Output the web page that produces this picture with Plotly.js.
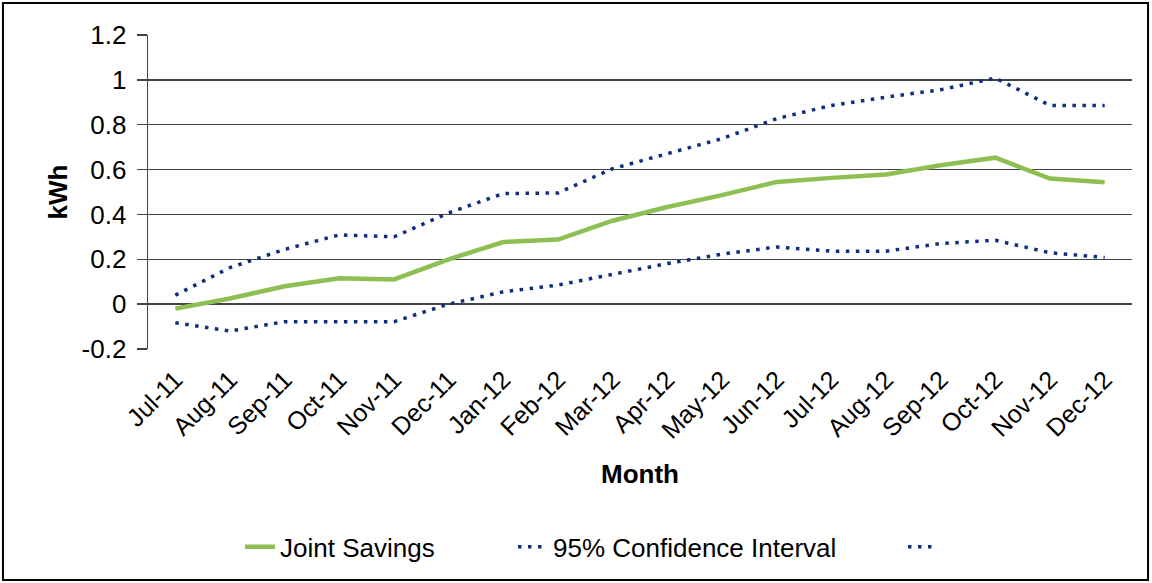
<!DOCTYPE html>
<html><head><meta charset="utf-8">
<script src="https://cdn.plot.ly/plotly-3.0.1.min.js"></script>
<style>html,body{margin:0;padding:0;background:#fff}#chart{width:1152px;height:583px}</style>
</head><body><div id="chart"></div>
<script>
const months = ["Jul-11","Aug-11","Sep-11","Oct-11","Nov-11","Dec-11","Jan-12","Feb-12","Mar-12","Apr-12","May-12","Jun-12","Jul-12","Aug-12","Sep-12","Oct-12","Nov-12","Dec-12"];
const jointSavings = [-0.02,0.025,0.08,0.115,0.11,0.20,0.277,0.288,0.372,0.433,0.486,0.545,0.563,0.578,0.619,0.653,0.56,0.543];
const upperCI = [0.04,0.163,0.244,0.309,0.30,0.407,0.493,0.496,0.604,0.671,0.738,0.827,0.886,0.923,0.956,1.008,0.886,0.886];
const lowerCI = [-0.083,-0.12,-0.078,-0.078,-0.078,0.0,0.055,0.085,0.132,0.181,0.223,0.255,0.236,0.236,0.27,0.285,0.229,0.208];
const yTicks = [-0.2,0,0.2,0.4,0.6,0.8,1,1.2];
const yTickText = ["-0.2","0","0.2","0.4","0.6","0.8","1","1.2"];

const font = "Liberation Sans, Arial, sans-serif";
const dotLine = {color:'#0f2f7c', width:3.5, dash:'3.5px,6.5px'};
const traces = [
  {x:months, y:jointSavings, type:'scatter', mode:'lines', name:'Joint Savings', line:{color:'#8dbf52', width:4.5}, legend:'legend'},
  {x:months, y:upperCI, type:'scatter', mode:'lines', name:'95% Confidence Interval', line:dotLine, legend:'legend2'},
  {x:months, y:lowerCI, type:'scatter', mode:'lines', name:' ', line:dotLine, legend:'legend3'}
];
const boundaries = months.map((_,i)=>i-0.5).concat([months.length-0.5]);
const legendBase = {orientation:'h', xanchor:'left', y:-0.63, yanchor:'middle', font:{size:26}, bgcolor:'rgba(0,0,0,0)'};
const layout = {
  width:1152, height:583,
  margin:{l:148, r:20, t:35, b:234},
  paper_bgcolor:'#fff', plot_bgcolor:'#fff',
  font:{family:font, size:26, color:'#000'},
  showlegend:true,
  legend:Object.assign({}, legendBase, {x:(240-148)/984}),
  legend2:Object.assign({}, legendBase, {x:(513-148)/984}),
  legend3:Object.assign({}, legendBase, {x:(903-148)/984}),
  xaxis:{type:'category', tickangle:-45, showgrid:false, ticks:'', showline:false, zeroline:false, ticklabelstandoff:10,
    tickfont:{size:25}, title:{text:'Month', font:{size:26, weight:'bold'}, standoff:21}, range:[-0.5, months.length-0.5]},
  xaxis2:{overlaying:'x', anchor:'free', position:(0-(-0.2))/1.4, range:[-0.5, months.length-0.5],
    showline:true, linecolor:'#333', linewidth:1.5, ticks:'inside', ticklen:8, tickcolor:'#333', tickwidth:1.5,
    tickmode:'array', tickvals:boundaries, showticklabels:false, showgrid:false, zeroline:false},
  yaxis:{range:[-0.2,1.2], tickmode:'array', tickvals:yTicks, ticktext:yTickText, showgrid:true, gridcolor:'#444', gridwidth:1.4,
    zeroline:false, showline:true, linecolor:'#444', linewidth:1.4, ticks:'outside', ticklen:10, tickcolor:'#444', tickwidth:1.4,
    ticklabelstandoff:5, tickfont:{size:26}, title:{text:'kWh', font:{size:26, weight:'bold'}, standoff:6}},
  shapes:[{type:'rect', xref:'paper', yref:'paper', x0:-0.1474, x1:1.0163, y0:-0.7357, y1:1.1019, line:{color:'#000', width:2}, fillcolor:'rgba(0,0,0,0)', layer:'below'}]
};
Plotly.newPlot('chart', traces, layout, {displayModeBar:false, staticPlot:true});
</script></body></html>
